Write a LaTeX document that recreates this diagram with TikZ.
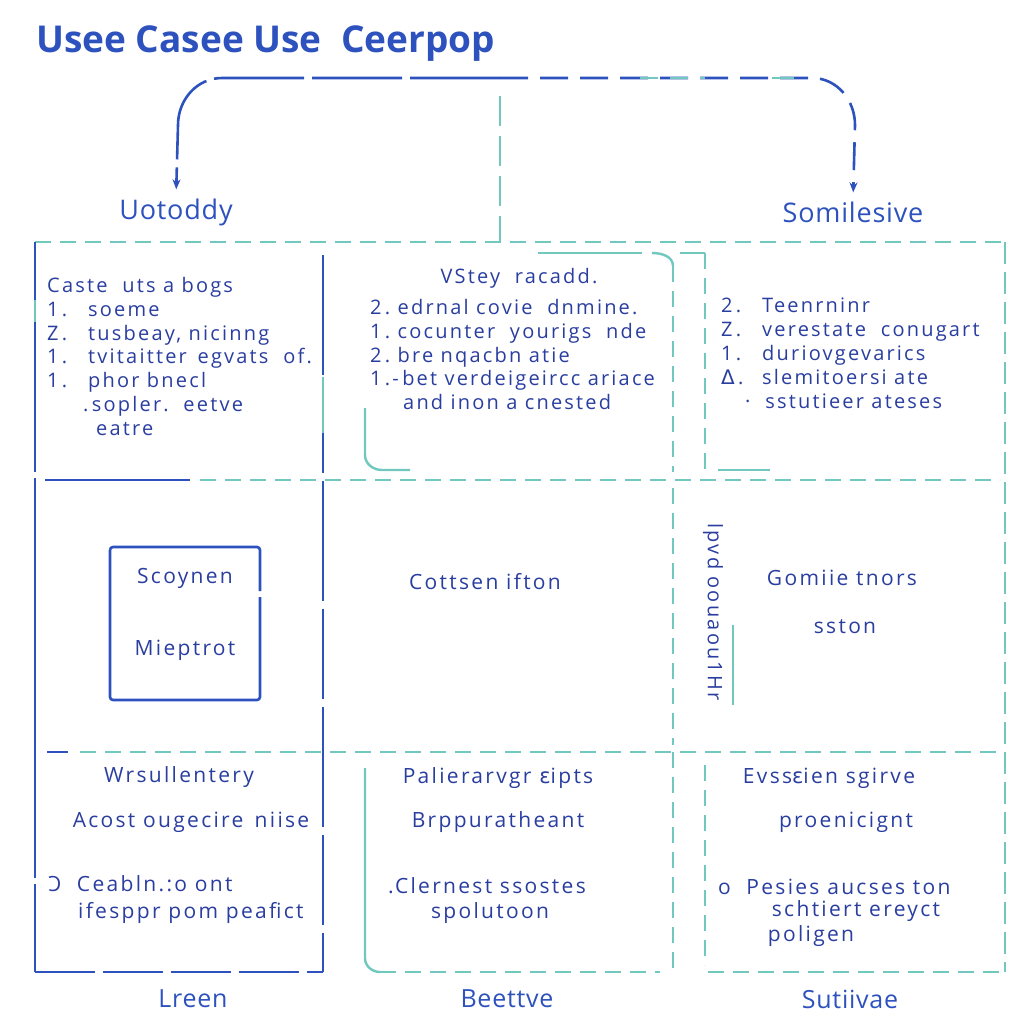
\documentclass[tikz,border=0pt]{standalone}
\usepackage{fontspec}
\setmainfont{Open Sans}[LetterSpace=11]
\newfontfamily\titlefont{Open Sans}
\newfontfamily\labfont{Open Sans}[LetterSpace=3]
\newfontfamily\dv{DejaVu Sans}[LetterSpace=11]
\usetikzlibrary{arrows.meta}
\definecolor{ublue}{RGB}{45,82,190}
\definecolor{uteal}{RGB}{112,200,190}
\definecolor{utext}{RGB}{42,62,160}
\newcommand{\nb}[1]{\makebox[41pt][l]{#1}}
\newcommand{\revC}{\scalebox{-1}[1]{C}}
\begin{document}
\begin{tikzpicture}[x=1pt,y=-1pt,
  bluel/.style={draw=ublue,line width=2.6pt},
  bluedash/.style={draw=ublue,line width=2.6pt,dash pattern=on 70pt off 8pt},
  teall/.style={draw=uteal,line width=2.4pt,dash pattern=on 16pt off 9pt},
  tealsolid/.style={draw=uteal,line width=2.4pt},
  tealover/.style={draw=uteal,line width=2.8pt},
  txt/.style={text=utext,font=\fontsize{20}{23.8}\selectfont,inner sep=0pt},
  list/.style={txt,align=left,anchor=north west},
  ctr/.style={txt,font=\fontsize{21}{25}\selectfont},
  lab/.style={text=ublue,font=\labfont\fontsize{27}{30}\selectfont,inner sep=0pt},
  blab/.style={text=ublue,font=\labfont\fontsize{25}{30}\selectfont,inner sep=0pt},
  tip/.style={-{Stealth[length=10pt,width=8pt]}}
]
\useasboundingbox[fill=white] (0,0) rectangle (1023,1023);

% title
\node[text=ublue,font=\titlefont\fontsize{37}{42}\selectfont\bfseries,anchor=west,inner sep=0pt] (title) at (36,44) {Usee Casee Use\ \ Ceerpop};

% top labels and arrows
\node[lab] (lu) at (176,212) {Uotoddy};
\node[lab] (ls) at (853,212) {Somilesive};
\coordinate (hub) at (500,78);
\coordinate (hubdown) at (500,96);
\coordinate (gridtop) at (500,242);
\coordinate (tA) at (640,78);
\coordinate (tB) at (705,78);
\coordinate (tC) at (772,78);
\coordinate (tD) at (805,78);
\draw[bluel,tip,dash pattern=on 90pt off 8pt,shorten >=9pt] (hub) -- (222,78) to[out=180,in=90] (178,125) -- (lu.north);
\draw[bluel,tip,dash pattern=on 28pt off 12pt,shorten >=9pt] (hub) -- (812,78) to[out=0,in=90] (855,125) -- (ls.north);
\draw[tealover,dash pattern=on 18pt off 12pt] (tA) -- (tB);
\draw[tealover,dash pattern=on 22pt off 12pt] (tC) -- (tD);
\draw[teall,dash pattern=on 30pt off 10pt] (hubdown) -- (gridtop);

% grid lines
\draw[teall] (35,242) -- (1005,242);
\draw[bluel,dash pattern=on 230pt off 6pt on 400pt off 6pt] (35,242) -- (35,972);
\draw[tealover] (35,300) -- (35,322);
\draw[bluel,dash pattern=on 120pt off 8pt on 90pt off 8pt] (323,255) -- (323,972);
\draw[tealover] (323,377) -- (323,433);
\draw[bluedash,dash pattern=on 60pt off 8pt] (35,972) -- (323,972);
\draw[bluel] (45,480) -- (190,480);
\draw[teall] (200,480) -- (1000,480);
\draw[bluel] (47,752) -- (68,752);
\draw[teall] (80,752) -- (1000,752);
\draw[teall,dash pattern=on 22pt off 8pt] (1005,242) -- (1005,972);

% row 1 middle frame
\draw[tealsolid] (538,253) -- (642,253);
\draw[tealsolid] (652,253) to[out=0,in=90] (673,266);
\draw[teall] (673,266) -- (673,472);
\draw[tealsolid] (365,408) -- (365,455) to[out=270,in=180] (382,470) -- (410,470);
% row 1 right frame
\draw[tealsolid] (680,253) -- (705,253);
\draw[teall] (705,253) -- (705,470);
\draw[tealsolid] (718,470) -- (770,470);

% row 2
\draw[teall] (673,488) -- (673,745);
\draw[bluel,rounded corners=3pt,dash pattern=on 400pt off 6pt on 200pt off 6pt] (110,547) rectangle (260,700);
\draw[tealsolid] (733,625) -- (733,705);

% row 3
\draw[tealsolid] (365,768) -- (365,958) to[out=270,in=180] (380,972);
\draw[teall] (380,972) -- (660,972);
\draw[teall] (673,752) -- (673,972);
\draw[teall] (705,765) -- (705,965);
\draw[teall] (708,972) -- (1005,972);

% row 1 texts
\node[list] (t1) at (47,277) {Caste\ \ uts a bogs\\
\nb{1\,.}soeme\\
\nb{Z\,.}tusbeay, nicinng\\
\nb{1\,.}tvitaitter \,egvats\ \ of.\\
\nb{1\,.}phor bnecl\\
\hspace*{36pt}.\,sopler.\ \ eetve\\
\hspace*{49pt}eatre};
\node[txt,anchor=north] (t2h) at (519,268) {VStey\ \ racadd.};
\node[list] (t2) at (370,299) {2\,.\ edrnal\ covie\ \ dnmine.\\
1\,.\ cocunter\ \ yourigs\ \ nde\\
2\,.\ bre nqacbn atie\\
1\,.-\,bet verdeigeircc ariace\\
\hspace*{33pt}and inon a cnested};
\node[list] (t3) at (721,298) {\nb{2\,.}Teenrninr\\
\nb{Z\,.}verestate\ \ conugart\\
\nb{1\,.}duriovgevarics\\
\nb{{\dv Δ}\,.}slemitoersi ate\\
\hspace*{24pt}·\ \ sstutieer ateses};

% row 2 texts
\node[ctr] (b1) at (185,578) {Scoynen};
\node[ctr] (b2) at (185,650) {Mieptrot};
\node[ctr] (c1) at (485,582) {Cottsen ifton};
\node[txt,rotate=-90] (v1) at (713,612) {lpvd oouaou1Hr};
\node[ctr] (g1) at (842,578) {Gomiie tnors};
\node[ctr] (g2) at (845,627) {sston};

% row 3 texts
\node[ctr] (w1) at (179,777) {Wrsullentery};
\node[ctr] (w2) at (191,822) {Acost ougecire \,niise};
\node[list,font=\fontsize{21}{27}\selectfont] (w3) at (48,875) {\revC\ \ Ceabln.:o ont\\
\hspace*{30pt}ifesppr pom peafict};
\node[ctr] (p1) at (498,778) {Palierarvgr {\dv ɛ}ipts};
\node[ctr] (p2) at (498,822) {Brppuratheant};
\node[ctr] (p3) at (487,886) {.Clernest ssostes};
\node[ctr] (p4) at (490,913) {spolutoon};
\node[ctr] (e1) at (829,778) {Evss{\dv ε}ien sgirve};
\node[ctr] (e2) at (846,822) {proenicignt};
\node[ctr,anchor=west] (e3) at (718,887) {o\ \ Pesies aucses ton};
\node[ctr] (e4) at (856,911) {schtiert ereyct};
\node[ctr] (e5) at (811,936) {poligen};

% bottom labels
\node[blab] (f1) at (193,999) {Lreen};
\node[blab] (f2) at (507,999) {Beettve};
\node[blab] (f3) at (850,999) {Sutiivae};
\end{tikzpicture}
\end{document}
